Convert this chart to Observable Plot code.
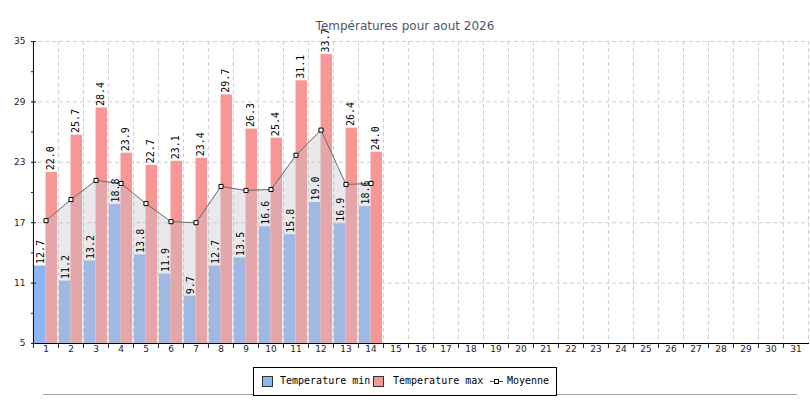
<!DOCTYPE html>
<html><head><meta charset="utf-8">
<script src="https://cdn.jsdelivr.net/npm/d3@7"></script>
<script src="https://cdn.jsdelivr.net/npm/@observablehq/plot@0.6"></script>
<style>
body{margin:0;background:#fff;}
#wrap{position:relative;width:810px;height:400px;overflow:hidden;background:#fff;}
#title{height:14px;padding-top:19px;line-height:14px;text-align:center;font:12px "DejaVu Sans";color:#4b5574;}
#chart{position:relative;z-index:1;}
#rule{position:absolute;left:43px;top:394px;width:754px;height:1px;background:#a0a0a0;z-index:2;}
#legend{position:absolute;left:253px;top:367px;width:302px;height:27px;border:1px solid #000;background:#fff;z-index:3;}
.sw{position:absolute;top:8px;width:9px;height:9px;border:1px solid #333;}
.lt{position:absolute;top:6px;font:10px "DejaVu Sans Mono";line-height:14px;color:#000;white-space:pre;}
</style></head><body>
<div id="wrap">
<div id="title">Températures pour aout 2026</div>
<div id="chart"></div>
<div id="rule"></div>
<div id="legend">
  <div class="sw" style="left:8px;background:#8eb5f2"></div>
  <div class="lt" style="left:26px">Temperature min</div>
  <div class="sw" style="left:119px;background:#f89696"></div>
  <div class="lt" style="left:139px">Temperature max</div>
  <div style="position:absolute;left:236px;top:13px;width:13px;height:1px;background:#555"></div>
  <div style="position:absolute;left:240px;top:11px;width:3px;height:3px;border:1px solid #000;background:#fff"></div>
  <div class="lt" style="left:253px">Moyenne</div>
</div>
</div>
<script>
const days = [1,2,3,4,5,6,7,8,9,10,11,12,13,14,15,16,17,18,19,20,21,22,23,24,25,26,27,28,29,30,31];
const obsDays = [1,2,3,4,5,6,7,8,9,10,11,12,13,14];
const tMin = [12.7,11.2,13.2,18.8,13.8,11.9,9.7,12.7,13.5,16.6,15.8,19.0,16.9,18.6];
const tMax = [22.0,25.7,28.4,23.9,22.7,23.1,23.4,29.7,26.3,25.4,31.1,33.7,26.4,24.0];
const tMoy = [17.2,19.3,21.2,20.9,18.9,17.1,17.0,20.6,20.2,20.3,23.7,26.2,20.8,20.9];
const yTicks = [5,11,17,23,29,35];
const yMinor = [8,14,20,26,32];

const rows = obsDays.map((d,i)=>({day:d, min:tMin[i], max:tMax[i], moy:tMoy[i]}));
const half = 778/31/2;
const grid = {stroke:"#cfcfcf", strokeDasharray:"4,3", strokeWidth:1};

const chart = Plot.plot({
  width:810, height:332, marginTop:8, marginBottom:22, marginLeft:31, marginRight:1,
  style:{overflow:"visible", background:"transparent", fontFamily:"DejaVu Sans", fontSize:"9px", color:"#222"},
  x:{type:"band", domain:days, padding:0, label:null},
  y:{domain:[5,35], label:null},
  marks:[
    Plot.ruleY(yTicks.slice(1), {y:d=>d, ...grid}),
    Plot.ruleX(days.slice(1), {x:d=>d, dx:-half, ...grid}),
    Plot.ruleX([31], {x:d=>d, dx:half, ...grid}),
    Plot.barY(rows, {x:"day", y1:5, y2:"min", fill:"#8eb5f2", insetLeft:1, insetRight:half}),
    Plot.barY(rows, {x:"day", y1:5, y2:"max", fill:"#f89696", insetLeft:half, insetRight:1}),
    Plot.areaY(rows, {x:"day", y1:5, y2:"moy", fill:"#c2c2c8", fillOpacity:0.36}),
    Plot.line(rows, {x:"day", y:"moy", stroke:"#6a6a6a", strokeWidth:1}),
    Plot.dot(rows, {x:"day", y:"moy", symbol:"square", r:2.3, fill:"white", stroke:"black", strokeWidth:1}),
    Plot.text(rows, {x:"day", y:"min", text:d=>d.min.toFixed(1), rotate:-90, textAnchor:"start", dx:-5.5, dy:-2, fontFamily:"DejaVu Sans Mono", fontSize:10, fill:"black"}),
    Plot.text(rows, {x:"day", y:"max", text:d=>d.max.toFixed(1), rotate:-90, textAnchor:"start", dx:5, dy:-2, fontFamily:"DejaVu Sans Mono", fontSize:10, fill:"black"}),
    Plot.ruleY([5], {stroke:"black"}),
    Plot.ruleX([1], {x:d=>d, dx:-half, stroke:"black"}),
    Plot.axisY({ticks:yTicks, tickSize:0, tickPadding:6, label:null, fontSize:9}),
    Plot.axisY({ticks:yTicks, tickSize:-5, tickFormat:()=>"", label:null}),
    Plot.axisY({ticks:yMinor, tickSize:-3, tickFormat:()=>"", label:null}),
    Plot.axisX({ticks:days, tickSize:0, tickPadding:2, label:null, fontSize:9}),
    Plot.axisX({ticks:days, tickSize:5, tickFormat:()=>"", dx:-half, label:null})
  ]
});
document.getElementById("chart").appendChild(chart);
</script>
</body></html>
